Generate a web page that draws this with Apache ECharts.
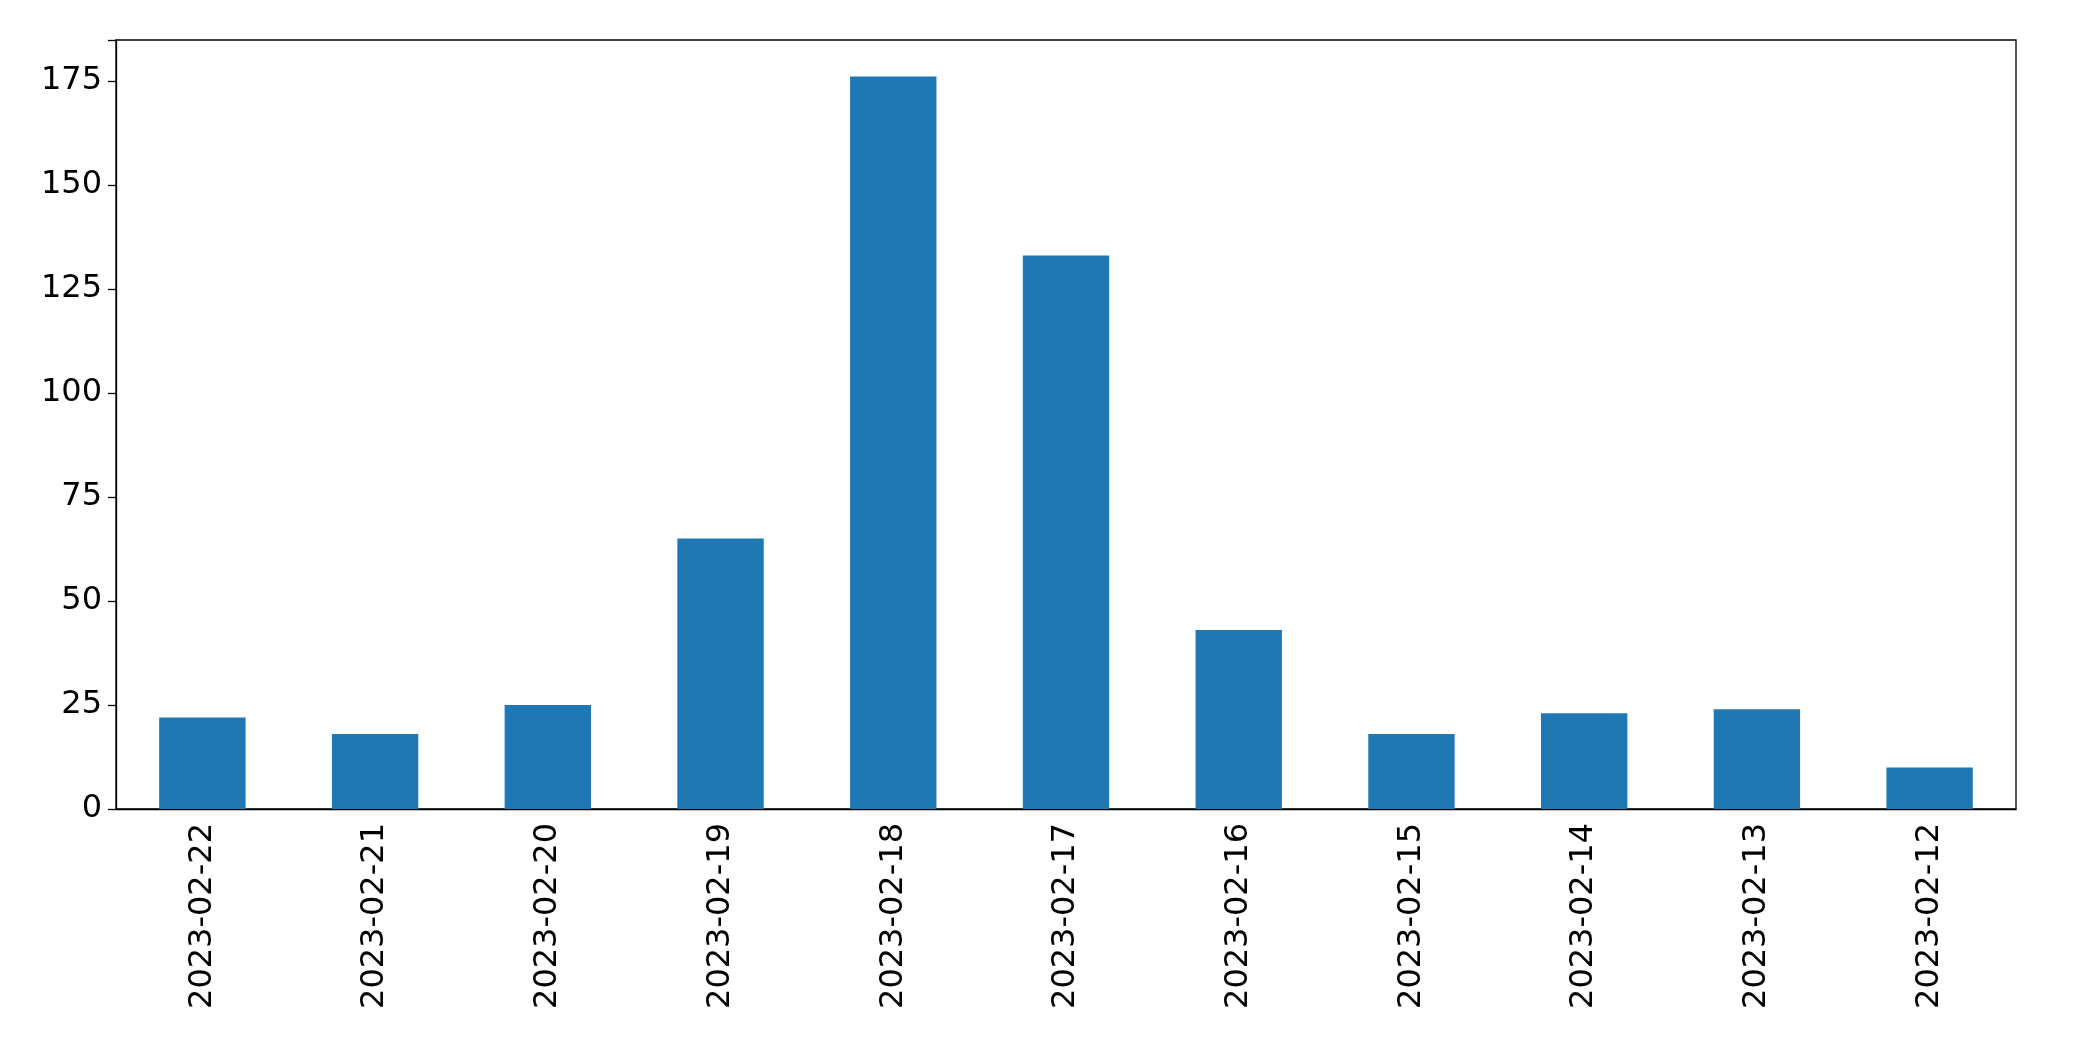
<!DOCTYPE html>
<html>
  <head>
    <meta charset="UTF-8" />
    <script src="https://cdn.jsdelivr.net/npm/echarts/dist/echarts.min.js"></script>
    <style>
      html, body { margin: 0; background: #fff; }
      #main { width: 2093px; height: 1061px; }
    </style>
  </head>
  <body>
    <div id="main"></div>
    <script>
      const dates = ["2023-02-22", "2023-02-21", "2023-02-20", "2023-02-19", "2023-02-18", "2023-02-17",
        "2023-02-16", "2023-02-15", "2023-02-14", "2023-02-13", "2023-02-12"]
      const counts = [22, 18, 25, 65, 176, 133, 43, 18, 23, 24, 10]

      const chart = echarts.init(document.getElementById("main"))
      const font = "DejaVu Sans"
      chart.setOption({
        animation: false,
        grid: { left: 116, right: 77, top: 40, bottom: 252, show: true, borderColor: "#000", borderWidth: 1.3 },
        xAxis: {
          type: "category",
          data: dates,
          axisLine: { lineStyle: { color: "#000", width: 1.3 } },
          axisTick: { alignWithLabel: true, length: 8, lineStyle: { color: "#000", width: 1.3 } },
          axisLabel: { rotate: 90, color: "#000", fontSize: 32, fontFamily: font, margin: 14, interval: 0 },
        },
        yAxis: {
          type: "value",
          min: 0,
          max: 184.8,
          interval: 25,
          splitLine: { show: false },
          axisLine: { show: true, lineStyle: { color: "#000", width: 1.3 } },
          axisTick: { show: true, length: 8, lineStyle: { color: "#000", width: 1.3 } },
          axisLabel: {
            color: "#000", fontSize: 32, fontFamily: font, margin: 14,
            formatter: (v) => (v % 25 === 0 ? v : ""),
          },
        },
        series: [{ type: "bar", data: counts, barWidth: "50%", itemStyle: { color: "#1f77b4" } }],
      })
    </script>
  </body>
</html>
